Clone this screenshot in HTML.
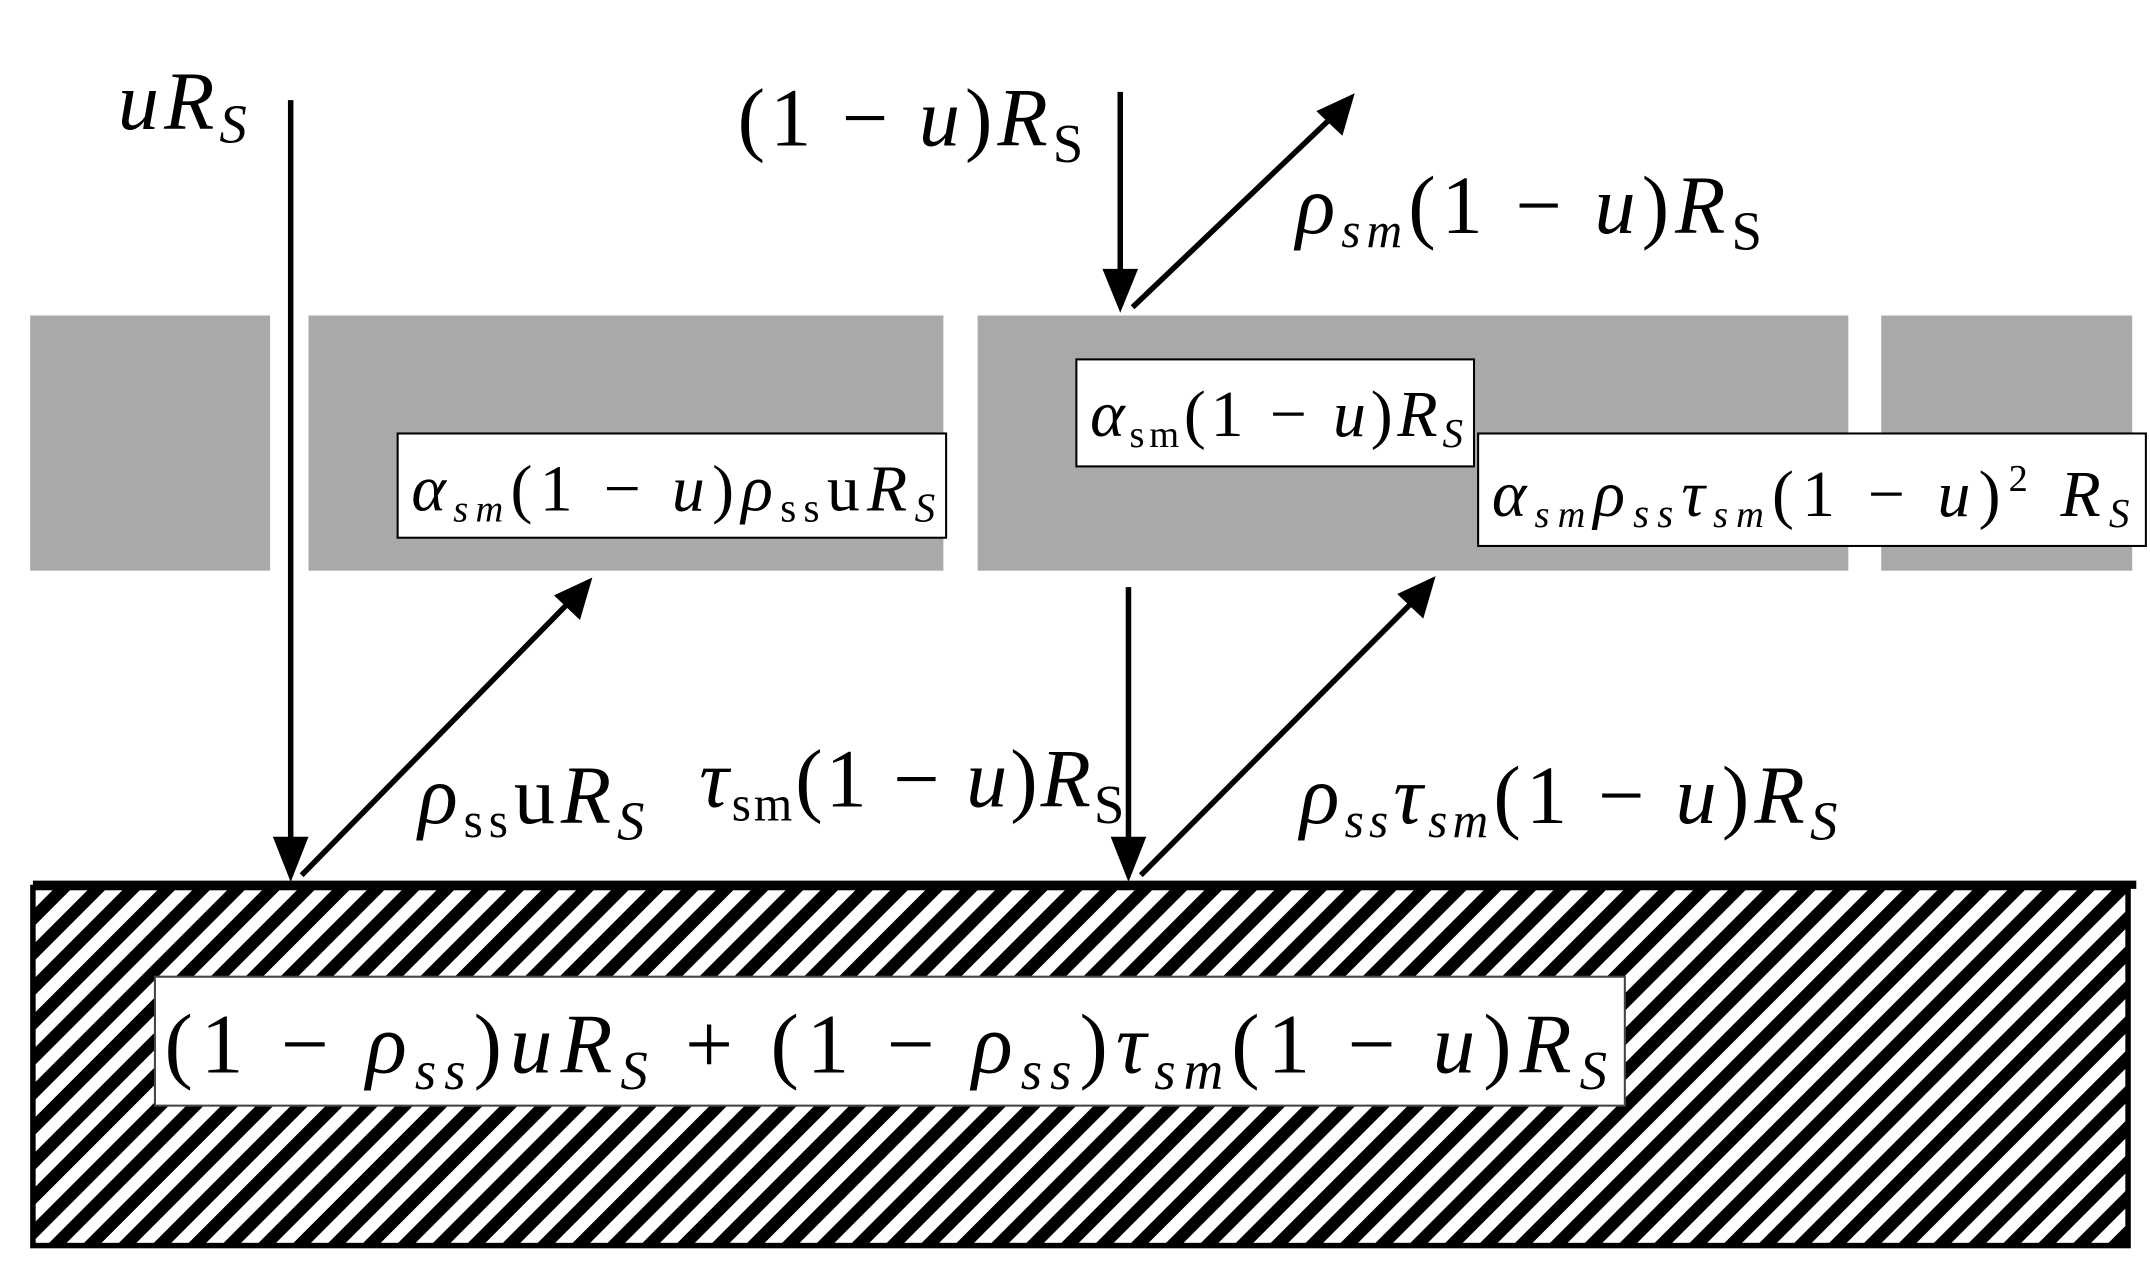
<!DOCTYPE html>
<html><head><meta charset="utf-8"><style>
html,body{margin:0;padding:0;background:#fff;}
svg{display:block;}
text{font-family:"Liberation Serif",serif;fill:#000;}
.i{font-style:italic;}
</style></head><body>
<svg width="2150" height="1273" viewBox="0 0 1568 928" preserveAspectRatio="none" xmlns="http://www.w3.org/2000/svg">
<defs>
<pattern id="h" width="18" height="18" patternUnits="userSpaceOnUse" patternTransform="rotate(45)">
<rect x="0" y="0" width="9" height="18" fill="#000"/>
</pattern>
</defs>
<rect width="1568" height="928" fill="#fff"/>
<g fill="#a9a9a9">
<rect x="22" y="230" width="175" height="186"/>
<rect x="225" y="230" width="463" height="186"/>
<rect x="713" y="230" width="635" height="186"/>
<rect x="1372" y="230" width="183" height="186"/>
</g>
<rect x="24" y="647" width="1528" height="261" fill="#fff"/>
<rect x="24" y="647" width="1528" height="261" fill="url(#h)"/>
<rect x="24" y="647" width="1528" height="261" fill="none" stroke="#000" stroke-width="4"/>
<line x1="24" y1="645" x2="1558" y2="645" stroke="#000" stroke-width="6"/>
<rect x="113" y="712" width="1072" height="94" fill="#fff" stroke="#444" stroke-width="1.5"/>
<text x="120" y="782" font-size="62" textLength="1052" lengthAdjust="spacing">(1 − <tspan class="i">ρ</tspan><tspan class="i" font-size="40" dy="12">ss</tspan><tspan dy="-12">)</tspan><tspan class="i">uR</tspan><tspan class="i" font-size="40" dy="12">S</tspan><tspan dy="-12"> + (1 − </tspan><tspan class="i">ρ</tspan><tspan class="i" font-size="40" dy="12">ss</tspan><tspan dy="-12">)</tspan><tspan class="i">τ</tspan><tspan class="i" font-size="40" dy="12">sm</tspan><tspan dy="-12">(1 − </tspan><tspan class="i">u</tspan>)<tspan class="i">R</tspan><tspan class="i" font-size="40" dy="12">S</tspan></text>
<rect x="290" y="316" width="400" height="76" fill="#fff" stroke="#000" stroke-width="1.5"/>
<text x="300" y="372" font-size="48" textLength="382" lengthAdjust="spacing"><tspan class="i">α</tspan><tspan class="i" font-size="28" dy="8">sm</tspan><tspan dy="-8">(1 − </tspan><tspan class="i">u</tspan>)<tspan class="i">ρ</tspan><tspan font-size="30" dy="8">ss</tspan><tspan dy="-8">u</tspan><tspan class="i">R</tspan><tspan class="i" font-size="30" dy="8">S</tspan></text>
<rect x="785" y="262" width="290" height="78" fill="#fff" stroke="#000" stroke-width="1.5"/>
<text x="795" y="318" font-size="48" textLength="272" lengthAdjust="spacing"><tspan class="i">α</tspan><tspan font-size="28" dy="8">sm</tspan><tspan dy="-8">(1 − </tspan><tspan class="i">u</tspan>)<tspan class="i">R</tspan><tspan class="i" font-size="30" dy="8">S</tspan></text>
<rect x="1078" y="316" width="487" height="82" fill="#fff" stroke="#000" stroke-width="1.5"/>
<text x="1088" y="376" font-size="48" textLength="465" lengthAdjust="spacing"><tspan class="i">α</tspan><tspan class="i" font-size="28" dy="8">sm</tspan><tspan class="i" dy="-8">ρ</tspan><tspan class="i" font-size="30" dy="8">ss</tspan><tspan class="i" dy="-8">τ</tspan><tspan class="i" font-size="28" dy="8">sm</tspan><tspan dy="-8">(1 − </tspan><tspan class="i">u</tspan>)<tspan font-size="28" dy="-18">2</tspan><tspan class="i" dy="18"> R</tspan><tspan class="i" font-size="30" dy="8">S</tspan></text>
<g stroke="#000" stroke-width="4" fill="none">
<line x1="212" y1="73" x2="212" y2="615"/>
<line x1="220" y1="638" x2="420" y2="434"/>
<line x1="817" y1="67" x2="817" y2="200"/>
<line x1="826" y1="224" x2="975" y2="82"/>
<line x1="823" y1="428" x2="823" y2="615"/>
<line x1="832" y1="638" x2="1035" y2="434"/>
</g>
<g fill="#000">
<polygon points="212,643 199,610 225,610"/>
<polygon points="432,421 423,452 404,434"/>
<polygon points="817,228 804,196 830,196"/>
<polygon points="988,68 979,99 960,81"/>
<polygon points="823,643 810,610 836,610"/>
<polygon points="1047,420 1038,451 1019,433"/>
</g>
<text x="86" y="94" font-size="60" class="i" textLength="94" lengthAdjust="spacing">uR<tspan font-size="40" dy="10">S</tspan></text>
<text x="538" y="106" font-size="60" textLength="252" lengthAdjust="spacing">(1 − <tspan class="i">u</tspan>)<tspan class="i">R</tspan><tspan font-size="40" dy="12">S</tspan></text>
<text x="945" y="170" font-size="60" textLength="340" lengthAdjust="spacing"><tspan class="i">ρ</tspan><tspan class="i" font-size="36" dy="10">sm</tspan><tspan dy="-10">(1 − </tspan><tspan class="i">u</tspan>)<tspan class="i">R</tspan><tspan font-size="40" dy="12">S</tspan></text>
<text x="305" y="600" font-size="60" textLength="165" lengthAdjust="spacing"><tspan class="i">ρ</tspan><tspan font-size="36" dy="10">ss</tspan><tspan dy="-10">u</tspan><tspan class="i">R</tspan><tspan class="i" font-size="40" dy="12">S</tspan></text>
<text x="510" y="588" font-size="60" textLength="310" lengthAdjust="spacing"><tspan class="i">τ</tspan><tspan font-size="36" dy="10">sm</tspan><tspan dy="-10">(1 − </tspan><tspan class="i">u</tspan>)<tspan class="i">R</tspan><tspan font-size="40" dy="12">S</tspan></text>
<text x="948" y="600" font-size="60" textLength="392" lengthAdjust="spacing"><tspan class="i">ρ</tspan><tspan class="i" font-size="36" dy="10">ss</tspan><tspan class="i" dy="-10">τ</tspan><tspan class="i" font-size="36" dy="10">sm</tspan><tspan dy="-10">(1 − </tspan><tspan class="i">u</tspan>)<tspan class="i">R</tspan><tspan class="i" font-size="40" dy="12">S</tspan></text>
</svg>
</body></html>
